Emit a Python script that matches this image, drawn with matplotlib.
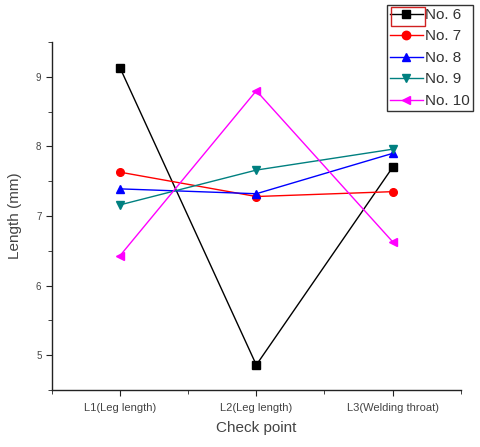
import matplotlib
matplotlib.use("Agg")
import matplotlib.pyplot as plt
from matplotlib.patches import Rectangle
from matplotlib.ticker import MultipleLocator

plt.rcParams['font.family'] = ['Liberation Sans', 'DejaVu Sans']

checkpoints = ['L1(Leg length)', 'L2(Leg length)', 'L3(Welding throat)']
no6 = [9.13, 4.86, 7.70]
no7 = [7.63, 7.28, 7.35]
no8 = [7.39, 7.32, 7.90]
no9 = [7.16, 7.66, 7.96]
no10 = [6.43, 8.80, 6.63]

series = [
    ('No. 6', no6, 'black', 's'),
    ('No. 7', no7, 'red', 'o'),
    ('No. 8', no8, 'blue', '^'),
    ('No. 9', no9, '#008080', 'v'),
    ('No. 10', no10, 'magenta', '<'),
]

fig = plt.figure(figsize=(4.8, 4.47), dpi=100)
ax = fig.add_axes([0.108, 0.1275, 0.852, 0.7785])

x = [1, 2, 3]
for name, vals, col, mk in series:
    ax.plot(x, vals, color=col, marker=mk, markersize=5.5, lw=1, label=name)

ax.set_xlim(0.5, 3.5)
ax.set_ylim(4.5, 9.5)
ax.set_xticks(x)
ax.set_xticklabels(checkpoints)
ax.xaxis.set_minor_locator(MultipleLocator(0.5))
ax.yaxis.set_major_locator(MultipleLocator(1))
ax.yaxis.set_minor_locator(MultipleLocator(0.5))

for s in ['top', 'right']:
    ax.spines[s].set_visible(False)
for s in ['left', 'bottom']:
    ax.spines[s].set_color('#222222')
    ax.spines[s].set_linewidth(1)

ax.tick_params(axis='both', which='major', direction='out', length=4,
               labelsize=7, labelcolor='#444444', color='#222222')
ax.tick_params(axis='both', which='minor', direction='out', length=3, color='#222222')
ax.tick_params(axis='x', which='major', labelsize=8, pad=5)

ax.set_xlabel('Check point', fontsize=11, color='#444444', labelpad=6)
ax.set_ylabel('Length (mm)', fontsize=11, color='#444444', labelpad=10)

leg = fig.legend(loc='upper right', bbox_to_anchor=(0.986, 0.989),
                 fontsize=11, frameon=True, fancybox=False, handlelength=2.2,
                 handletextpad=0.15, borderpad=0.2, labelspacing=0.49,
                 borderaxespad=0, markerscale=1.1)
leg.get_frame().set_edgecolor('black')
leg.get_frame().set_linewidth(1)
for t in leg.get_texts():
    t.set_color('#333333')

# red selection box around the first legend handle
fig.patches.append(Rectangle((391 / 480, 1 - 26 / 447), 34 / 480, 19 / 447,
                             transform=fig.transFigure, fill=False,
                             edgecolor='#d02020', lw=1, zorder=10))

fig.savefig('out.png', dpi=100)
